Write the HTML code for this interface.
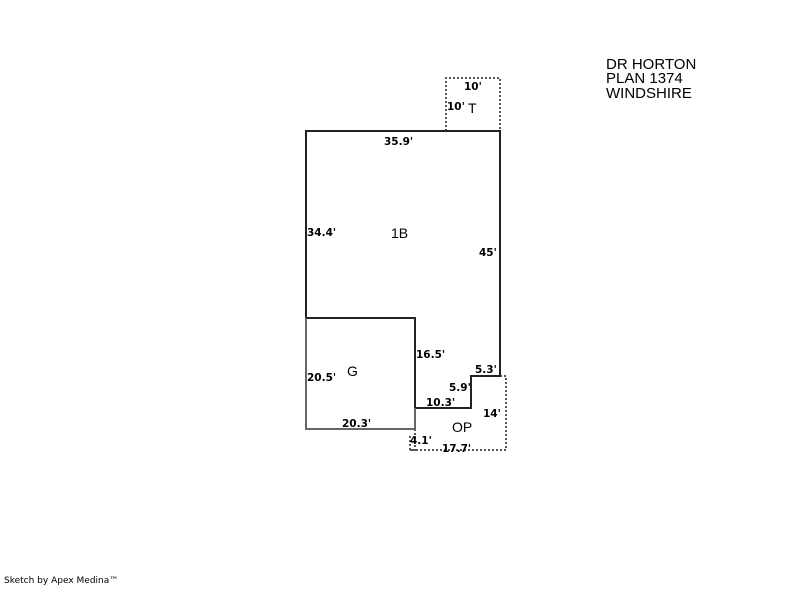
<!DOCTYPE html>
<html><head><style>
body{margin:0;background:#fff;width:800px;height:587px;overflow:hidden}
svg text{font-family:"DejaVu Sans","Liberation Sans",sans-serif}
.d{font-size:10.5px;font-weight:bold;fill:#000}
.l{font-size:14px;fill:#000;font-family:"Liberation Sans",sans-serif}
.h{font-size:15px;fill:#000;font-family:"Liberation Sans",sans-serif}
</style></head><body>
<svg width="800" height="587" xmlns="http://www.w3.org/2000/svg">
<g fill="none" stroke="#555" stroke-width="2" stroke-dasharray="2,2">
<polyline points="446,131 446,78 500,78 500,131"/>
<polyline points="415,429 415,450 410,450 410,450 506,450 506,376 500,376"/>
<polyline points="410,450 410,436"/>
</g>
<g fill="none" stroke="#222" stroke-width="2">
<polyline points="306,318 306,131 500,131 500,376 471,376 471,408 415,408 415,318 306,318"/>
</g>
<g fill="none" stroke="#666" stroke-width="2">
<polyline points="306,318 306,429 415,429 415,408"/>
</g>
<text class="d" x="464" y="90">10'</text>
<text class="d" x="447" y="110">10'</text>
<text class="l" x="468" y="113">T</text>
<text class="d" x="384" y="145">35.9'</text>
<text class="d" x="307" y="236">34.4'</text>
<text class="l" x="391" y="238">1B</text>
<text class="d" x="479" y="256">45'</text>
<text class="d" x="416" y="358">16.5'</text>
<text class="d" x="307" y="381">20.5'</text>
<text class="l" x="347" y="376">G</text>
<text class="d" x="475" y="373">5.3'</text>
<text class="d" x="449" y="391">5.9'</text>
<text class="d" x="426" y="406">10.3'</text>
<text class="d" x="483" y="417">14'</text>
<text class="d" x="342" y="427">20.3'</text>
<text class="l" x="452" y="432">OP</text>
<text class="d" x="410" y="444">4.1'</text>
<text class="d" x="442" y="452">17.7'</text>
<text class="h" x="606" y="69">DR HORTON</text>
<text class="h" x="606" y="83">PLAN 1374</text>
<text class="h" x="606" y="98">WINDSHIRE</text>
<text x="4" y="583" style="font-size:9px">Sketch by Apex Medina™</text>
</svg>
</body></html>
